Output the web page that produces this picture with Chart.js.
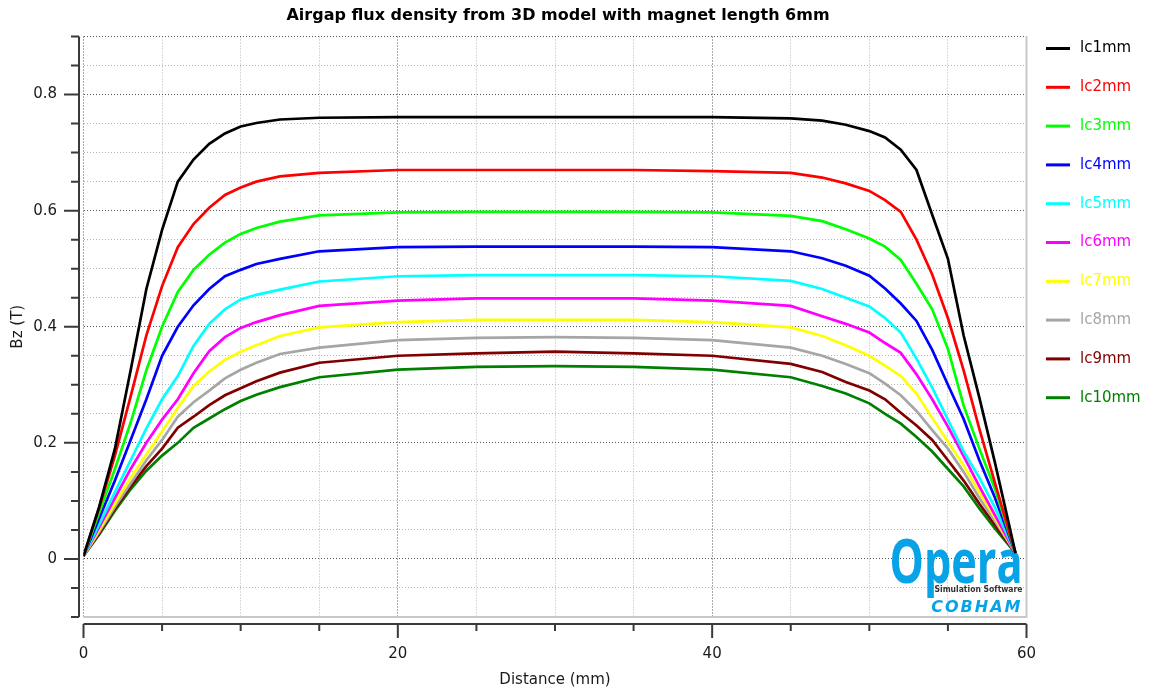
<!DOCTYPE html>
<html>
<head>
<meta charset="utf-8">
<script src="https://cdn.jsdelivr.net/npm/chart.js@4.4.1/dist/chart.umd.min.js"></script>
<style>
  body { margin: 0; background: #fff; }
  canvas { display: block; }
</style>
</head>
<body>
<canvas id="fluxChart" width="1154" height="695"></canvas>
<script>
// Texts
const chartTitle = 'Airgap flux density from 3D model with magnet length 6mm';
const xTitle = 'Distance (mm)';
const yTitle = 'Bz (T)';
const xTickLabels = ['0', '20', '40', '60'];
const yTickLabels = ['0', '0.2', '0.4', '0.6', '0.8'];

// Series
const seriesNames = ['lc1mm', 'lc2mm', 'lc3mm', 'lc4mm', 'lc5mm', 'lc6mm', 'lc7mm', 'lc8mm', 'lc9mm', 'lc10mm'];
const seriesColors = ['#000000', '#ff0000', '#00ff00', '#0000ff', '#00ffff', '#ff00ff', '#ffff00', '#a6a6a6', '#800000', '#008000'];

// Distance (mm)
const distance = [0, 1, 2, 3, 4, 5, 6, 7, 8, 9, 10, 11, 12.5, 15, 20, 25, 30, 35, 40, 45, 47, 48.5, 50, 51, 52, 53, 54, 55, 56, 57, 58, 59.3];

// Bz (T)
const lc1 = [0.005, 0.09, 0.19, 0.325, 0.465, 0.567, 0.65, 0.688, 0.715, 0.733, 0.745, 0.751, 0.757, 0.76, 0.761, 0.761, 0.761, 0.761, 0.761, 0.759, 0.755, 0.748, 0.737, 0.726, 0.705, 0.67, 0.593, 0.517, 0.385, 0.278, 0.165, 0.01];
const lc2 = [0.005, 0.088, 0.178, 0.28, 0.385, 0.47, 0.537, 0.577, 0.605, 0.627, 0.64, 0.65, 0.659, 0.665, 0.67, 0.67, 0.67, 0.67, 0.668, 0.665, 0.657, 0.647, 0.634, 0.618, 0.598, 0.55, 0.49, 0.415, 0.325, 0.224, 0.13, 0.01];
const lc3 = [0.005, 0.08, 0.155, 0.235, 0.325, 0.40, 0.46, 0.498, 0.524, 0.545, 0.56, 0.57, 0.581, 0.592, 0.597, 0.598, 0.598, 0.598, 0.597, 0.591, 0.582, 0.568, 0.552, 0.538, 0.515, 0.474, 0.43, 0.362, 0.264, 0.19, 0.12, 0.01];
const lc4 = [0.005, 0.07, 0.135, 0.205, 0.275, 0.35, 0.40, 0.437, 0.465, 0.487, 0.498, 0.508, 0.517, 0.53, 0.537, 0.538, 0.538, 0.538, 0.537, 0.53, 0.518, 0.505, 0.488, 0.466, 0.44, 0.41, 0.36, 0.3, 0.241, 0.17, 0.105, 0.01];
const lc5 = [0.005, 0.06, 0.115, 0.17, 0.225, 0.275, 0.315, 0.367, 0.405, 0.43, 0.447, 0.455, 0.464, 0.478, 0.487, 0.489, 0.489, 0.489, 0.487, 0.479, 0.465, 0.45, 0.435, 0.415, 0.39, 0.345, 0.295, 0.24, 0.185, 0.14, 0.088, 0.01];
const lc6 = [0.005, 0.055, 0.105, 0.155, 0.2, 0.24, 0.275, 0.32, 0.358, 0.382, 0.398, 0.408, 0.42, 0.436, 0.445, 0.449, 0.449, 0.449, 0.445, 0.436, 0.418, 0.405, 0.39, 0.372, 0.355, 0.318, 0.275, 0.228, 0.177, 0.125, 0.075, 0.01];
const lc7 = [0.005, 0.05, 0.095, 0.14, 0.18, 0.22, 0.26, 0.298, 0.323, 0.343, 0.357, 0.368, 0.384, 0.399, 0.408, 0.412, 0.412, 0.412, 0.408, 0.399, 0.384, 0.368, 0.35, 0.333, 0.315, 0.285, 0.243, 0.202, 0.161, 0.115, 0.07, 0.01];
const lc8 = [0.005, 0.047, 0.09, 0.13, 0.17, 0.205, 0.245, 0.27, 0.29, 0.311, 0.326, 0.338, 0.353, 0.364, 0.377, 0.381, 0.382, 0.381, 0.377, 0.364, 0.35, 0.336, 0.32, 0.302, 0.282, 0.255, 0.222, 0.19, 0.15, 0.105, 0.065, 0.01];
const lc9 = [0.005, 0.044, 0.087, 0.125, 0.16, 0.19, 0.226, 0.245, 0.265, 0.282, 0.294, 0.306, 0.321, 0.338, 0.35, 0.354, 0.357, 0.354, 0.35, 0.336, 0.322, 0.305, 0.29, 0.275, 0.252, 0.23, 0.205, 0.17, 0.135, 0.095, 0.058, 0.01];
const lc10 = [0.005, 0.042, 0.083, 0.12, 0.152, 0.178, 0.2, 0.226, 0.242, 0.258, 0.272, 0.283, 0.296, 0.313, 0.326, 0.331, 0.332, 0.331, 0.326, 0.313, 0.298, 0.285, 0.268, 0.25, 0.233, 0.21, 0.185, 0.155, 0.125, 0.087, 0.052, 0.01];

const allSeries = [lc1, lc2, lc3, lc4, lc5, lc6, lc7, lc8, lc9, lc10];

const FONT = '"DejaVu Sans", Verdana, sans-serif';
const AXIS_COLOR = '#3a3a3a';

const yLabel = v => {
    const s = String(Math.round(v * 100) / 100);
    return yTickLabels.includes(s) ? s : '';
};
const xLabel = v => {
    const s = String(Math.round(v));
    return xTickLabels.includes(s) ? s : '';
};

// Axis lines, tick marks, frame, title, logo and legend drawn around the plot
const decorations = {
    id: 'decorations',
    beforeDatasetsDraw(chart) {
        const { ctx, chartArea: a } = chart;
        ctx.save();
        // logo under the curves
        ctx.fillStyle = '#08a2e6';
        ctx.font = `bold 60px "Open Sans", ${FONT}`;
        const w = ctx.measureText('Opera').width;
        ctx.translate(a.right - 137, a.bottom - 34);
        ctx.scale(133 / w, 1);
        ctx.textBaseline = 'alphabetic';
        ctx.fillText('Opera', 0, 0);
        ctx.restore();

        ctx.save();
        ctx.fillStyle = '#333';
        ctx.font = `bold 9px ${FONT}`;
        ctx.textAlign = 'right';
        ctx.fillText('Simulation Software', a.right - 4, a.bottom - 25, 88);
        ctx.fillStyle = '#08a2e6';
        ctx.font = `italic bold 16px ${FONT}`;
        ctx.letterSpacing = '2px';
        ctx.fillText('COBHAM', a.right - 4, a.bottom - 5, 92);
        ctx.restore();
    },
    afterDraw(chart) {
        const { ctx, chartArea: a, scales } = chart;
        const xs = scales.x, ys = scales.y;
        ctx.save();

        // frame right / bottom
        ctx.strokeStyle = '#c8c8c8';
        ctx.lineWidth = 2;
        ctx.beginPath();
        ctx.moveTo(a.right, a.top);
        ctx.lineTo(a.right, a.bottom);
        ctx.lineTo(a.left, a.bottom);
        ctx.stroke();

        // y axis
        ctx.strokeStyle = AXIS_COLOR;
        ctx.lineWidth = 2;
        const yx = a.left - 4.5;
        ctx.beginPath();
        ctx.moveTo(yx, a.top);
        ctx.lineTo(yx, a.bottom);
        ys.ticks.forEach(t => {
            const p = ys.getPixelForValue(t.value);
            const len = yLabel(t.value) ? 15 : 8;
            ctx.moveTo(yx, p);
            ctx.lineTo(yx - len, p);
        });
        ctx.stroke();

        // x axis
        const xy = a.bottom + 7;
        ctx.beginPath();
        ctx.moveTo(a.left, xy);
        ctx.lineTo(a.right, xy);
        xs.ticks.forEach(t => {
            const p = xs.getPixelForValue(t.value);
            const len = xLabel(t.value) ? 14 : 7;
            ctx.moveTo(p, xy);
            ctx.lineTo(p, xy + len);
        });
        ctx.stroke();

        // title
        ctx.fillStyle = '#000';
        ctx.font = `bold 16px ${FONT}`;
        ctx.textAlign = 'center';
        ctx.textBaseline = 'middle';
        ctx.fillText(chartTitle, (a.left + a.right) / 2 + 3, 16);

        // legend
        ctx.font = `15px ${FONT}`;
        ctx.textAlign = 'left';
        chart.data.datasets.forEach((ds, i) => {
            const y = 48.5 + i * 38.8;
            ctx.strokeStyle = ds.borderColor;
            ctx.lineWidth = 3;
            ctx.beginPath();
            ctx.moveTo(1046, y);
            ctx.lineTo(1070, y);
            ctx.stroke();
            ctx.fillStyle = ds.borderColor;
            ctx.fillText(ds.label, 1080, y);
        });
        ctx.restore();
    }
};

const gridColor = (label, edge) => ctx => {
    const v = ctx.tick.value;
    return label(v) || edge(v) ? '#555' : '#b4b4b4';
};

new Chart(document.getElementById('fluxChart'), {
    type: 'line',
    data: {
        datasets: allSeries.map((s, i) => ({
            label: seriesNames[i],
            data: distance.map((d, j) => ({ x: d, y: s[j] })),
            borderColor: seriesColors[i],
            backgroundColor: seriesColors[i],
            borderWidth: 2.7,
            pointRadius: 0,
            tension: 0,
            fill: false
        }))
    },
    options: {
        responsive: false,
        animation: false,
        devicePixelRatio: 1,
        layout: { padding: { left: 0, top: 36.5, right: 127.5, bottom: 0 } },
        plugins: {
            legend: { display: false },
            tooltip: { enabled: false },
            title: { display: false }
        },
        scales: {
            x: {
                type: 'linear',
                min: 0,
                max: 60,
                afterFit: s => { s.height = 78; },
                ticks: {
                    stepSize: 5,
                    autoSkip: false,
                    maxRotation: 0,
                    padding: 28,
                    color: '#1a1a1a',
                    font: { family: FONT, size: 15 },
                    callback: v => xLabel(v)
                },
                grid: {
                    drawTicks: false,
                    lineWidth: 1,
                    color: gridColor(xLabel, () => false)
                },
                border: { display: false, dash: [1, 2] },
                title: {
                    display: true,
                    text: xTitle,
                    color: '#1a1a1a',
                    font: { family: FONT, size: 15 },
                    padding: { top: 0, bottom: 6 }
                }
            },
            y: {
                type: 'linear',
                min: -0.1,
                max: 0.9,
                afterFit: s => { s.width = 83.5; },
                ticks: {
                    stepSize: 0.05,
                    autoSkip: false,
                    padding: 26.5,
                    color: '#1a1a1a',
                    font: { family: FONT, size: 15 },
                    callback: v => yLabel(v)
                },
                grid: {
                    drawTicks: false,
                    lineWidth: 1,
                    color: gridColor(yLabel, v => v > 0.89)
                },
                border: { display: false, dash: [1, 2] },
                title: {
                    display: true,
                    text: yTitle,
                    color: '#1a1a1a',
                    font: { family: FONT, size: 15 },
                    padding: { top: 9, bottom: 0 }
                }
            }
        }
    },
    plugins: [decorations]
});
</script>
</body>
</html>
